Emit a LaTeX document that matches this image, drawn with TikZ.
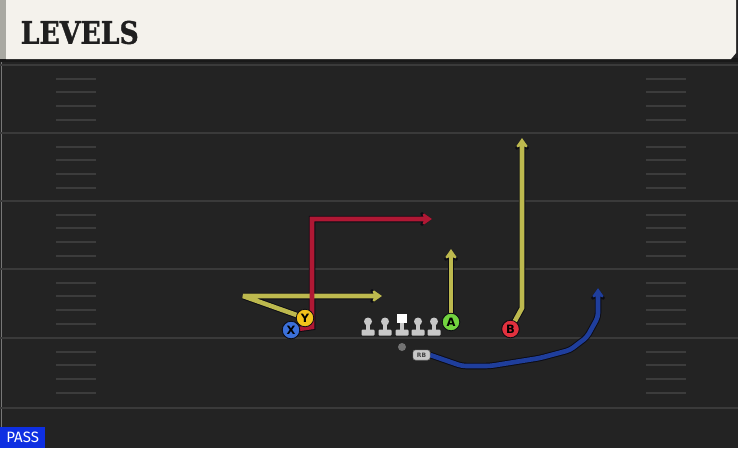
\documentclass[tikz,border=0pt]{standalone}
\usepackage{fontspec}
\setmainfont{DejaVu Sans}
\newfontfamily\headfont[BoldFeatures={FakeBold=1.3}]{DejaVu Serif}
\newfontfamily\passfont{Fira Sans}
\usetikzlibrary{arrows.meta}
\definecolor{fieldbg}{HTML}{232323}
\definecolor{yardline}{HTML}{3A3A3A}
\definecolor{hashc}{HTML}{3C3C3C}
\definecolor{cream}{HTML}{F4F2EC}
\definecolor{stripc}{HTML}{A9A9A2}
\definecolor{routeyel}{HTML}{BDB94E}
\definecolor{routered}{HTML}{B01834}
\definecolor{routeblue}{HTML}{1F3E9C}
\definecolor{outl}{HTML}{0C0C14}
\definecolor{plX}{HTML}{3B70D9}
\definecolor{plY}{HTML}{F2C21C}
\definecolor{plA}{HTML}{72D33F}
\definecolor{plB}{HTML}{E2313E}
\definecolor{linec}{HTML}{C8C8C8}
\definecolor{passblue}{HTML}{0E2FE2}
\tikzset{
  yard/.style={yardline, line width=2pt},
  hashmark/.style={hashc, line width=1.4pt},
  player/.style={circle, draw=outl, line width=0.8pt, minimum size=17.5pt, inner sep=0pt, font=\bfseries\fontsize{11.5}{11.5}\selectfont, text=black},
  rbtag/.style={fill=linec, draw=black!60, line width=0.4pt, rounded corners=2.5pt, inner sep=0pt, minimum width=17pt, minimum height=10pt, text=black!75, font=\bfseries\fontsize{6}{6}\selectfont},
  routeout/.style={outl, line width=6.5pt, line join=miter, miter limit=3, -{Stealth[length=13pt,width=18pt,inset=3.5pt]}},
  routein/.style={line width=4.6pt, line join=miter, miter limit=3, -{Stealth[length=10.5pt,width=14.5pt,inset=3pt]}},
  lineman/.style={fill=linec}
}
\begin{document}
\begin{tikzpicture}[x=1pt,y=-1pt]
\useasboundingbox (0,0) rectangle (738,448);
\fill[fieldbg] (0,0) rectangle (738,448);
\draw[hashc!70, line width=1pt] (1,62) -- (1,448);
% yard lines
\foreach \yy in {65,133,201,269,338,408} \draw[yard] (0,\yy) -- (738,\yy);
% hash marks
\foreach \base in {65,133,201,269,338} {
  \foreach \off in {14,27,41,55} {
    \draw[hashmark] (56,\base+\off) -- (96,\base+\off);
    \draw[hashmark] (646,\base+\off) -- (686,\base+\off);
  }
}
% header
\fill[black!90] (0,58) rectangle (738,62);
\fill[cream] (6,0) -- (736,0) -- (736,53) -- (731,59) -- (6,59) -- cycle;
\fill[stripc] (0,0) rectangle (6,59);
\node[anchor=west, inner sep=0pt, text=black!88, font=\headfont\bfseries\fontsize{31}{31}\selectfont] (title) at (20.5,32.5) {\scalebox{0.86}[1]{LEVELS}};
% players
\node[player, fill=plX] (X) at (291,330) {X};
\node[player, fill=plY] (Y) at (305,318) {Y};
\node[player, fill=plA] (A) at (451,322) {A};
\node[player, fill=plB] (B) at (510.5,329) {B};
\node[rbtag] (RB) at (421.5,355) {RB};
% route end points
\coordinate (yv) at (243,296);
\coordinate (yend) at (382,296);
\coordinate (xv1) at (312,327);
\coordinate (xv2) at (312,219);
\coordinate (xend) at (432,219);
\coordinate (aend) at (451,249);
\coordinate (bv) at (522,308);
\coordinate (bend) at (522,138);
\coordinate (r1) at (462,366);
\coordinate (r2) at (490,366);
\coordinate (r3) at (540,358);
\coordinate (r4) at (570,350);
\coordinate (r5) at (587,337);
\coordinate (r6) at (598,317);
\coordinate (rend) at (598,288);
% routes: outlines then colour
\draw[routeout] (Y.center) -- (yv) -- (yend);
\draw[routeout] (X.center) -- (xv1) -- (xv2) -- (xend);
\draw[routeout] (A.center) -- (aend);
\draw[routeout] (B.center) -- (bv) -- (bend);
\draw[routeout, rounded corners=4pt] (RB.east) -- (r1) -- (r2) -- (r3) -- (r4) -- (r5) -- (r6) -- (rend);
\draw[routein, routeyel] (Y.center) -- (yv) -- (yend);
\draw[routein, routered] (X.center) -- (xv1) -- (xv2) -- (xend);
\draw[routein, routeyel] (A.center) -- (aend);
\draw[routein, routeyel] (B.center) -- (bv) -- (bend);
\draw[routein, routeblue, rounded corners=4pt] (RB.east) -- (r1) -- (r2) -- (r3) -- (r4) -- (r5) -- (r6) -- (rend);
% redraw players on top
\node[player, fill=plX] at (X) {X};
\node[player, fill=plY] at (Y) {Y};
\node[player, fill=plA] at (A) {A};
\node[player, fill=plB] at (B) {B};
\node[rbtag] at (RB) {RB};
% linemen
\foreach \cx in {368,385,418,434} {
  \fill[lineman] (\cx,321.5) circle (4pt);
  \fill[lineman] (\cx-1.8,322) rectangle (\cx+1.8,331);
  \fill[lineman, rounded corners=1pt] (\cx-6.5,329.5) rectangle (\cx+6.5,335.5);
}
\fill[white] (397,314) rectangle (407,323);
\fill[lineman] (400.2,323) rectangle (403.8,331);
\fill[lineman, rounded corners=1pt] (395.5,329.5) rectangle (408.5,335.5);
% QB
\fill[black!55] (402,347) circle (4pt);
% PASS label
\node[fill=passblue, anchor=north west, inner sep=0pt, minimum width=45pt, minimum height=21pt, text=white, font=\passfont\fontsize{15}{15}\selectfont] (pass) at (0,427) {PASS};
\end{tikzpicture}
\end{document}
